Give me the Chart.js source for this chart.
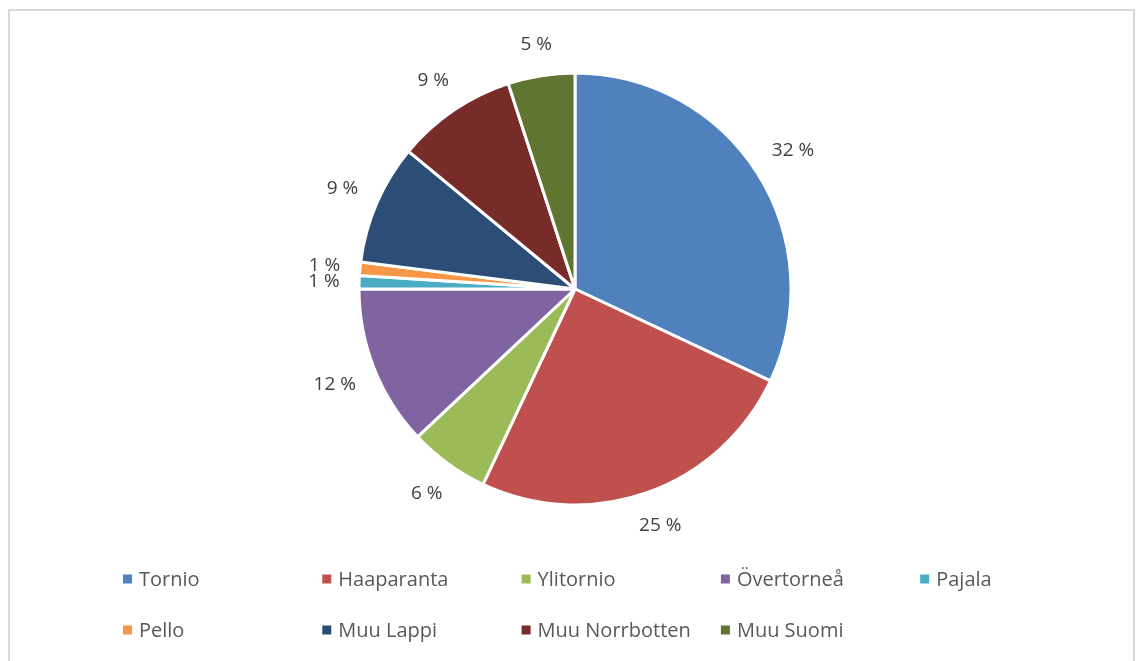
<!DOCTYPE html>
<html>
<head>
<meta charset="utf-8">
<script src="https://cdn.jsdelivr.net/npm/chart.js@4"></script>
<style>
    html, body { margin: 0; padding: 0; background: #ffffff; }
    #wrap { width: 1143px; height: 661px; position: relative; }
</style>
</head>
<body>
<div id="wrap"><canvas id="pieChart"></canvas></div>
<script>
// Share of visitors by home area (%)
const areas = ['Tornio', 'Haaparanta', 'Ylitornio', 'Övertorneå', 'Pajala', 'Pello', 'Muu Lappi', 'Muu Norrbotten', 'Muu Suomi'];
const shares = [32, 25, 6, 12, 1, 1, 9, 9, 5];
const sliceColors = ['#4F81BD', '#C0504D', '#9BBB59', '#8064A2', '#4BACC6', '#F79646', '#2C4D75', '#772C2A', '#5F7530'];

const fontFamily = '"Open Sans", Lato, sans-serif';

// light frame around the whole chart
const framePlugin = {
    id: 'frame',
    beforeDraw(chart) {
        const ctx = chart.ctx;
        ctx.save();
        ctx.fillStyle = '#ffffff';
        ctx.fillRect(0, 0, chart.width, chart.height);
        ctx.strokeStyle = '#d9d9d9';
        ctx.lineWidth = 2;
        ctx.strokeRect(9, 10, chart.width - 18, chart.height + 20);
        ctx.restore();
    }
};

// percentage labels outside each slice, text box kept a fixed gap from the rim
const outsideLabels = {
    id: 'outsideLabels',
    afterDatasetsDraw(chart) {
        const ctx = chart.ctx;
        const meta = chart.getDatasetMeta(0);
        const gap = 19, boxH = 20;
        ctx.save();
        ctx.font = '19px ' + fontFamily;
        ctx.fillStyle = '#404040';
        ctx.textAlign = 'center';
        ctx.textBaseline = 'middle';
        meta.data.forEach((arc, i) => {
            const p = arc.getProps(['x', 'y', 'startAngle', 'endAngle', 'outerRadius'], true);
            const text = shares[i] + ' %';
            const w = ctx.measureText(text).width;
            const mid = (p.startAngle + p.endAngle) / 2;
            const dx = Math.cos(mid), dy = Math.sin(mid);
            const dist = p.outerRadius + gap + Math.abs(dx) * w / 2 + Math.abs(dy) * boxH / 2;
            ctx.fillText(text, p.x + dx * dist, p.y + dy * dist);
        });
        ctx.restore();
    }
};

// legend in a fixed grid of five columns
const gridLegend = {
    id: 'gridLegend',
    afterDraw(chart) {
        const ctx = chart.ctx;
        const left = 123, colW = 199.3, rowY = [579, 630], cols = 5;
        ctx.save();
        ctx.font = '20px ' + fontFamily;
        ctx.textBaseline = 'middle';
        ctx.textAlign = 'left';
        areas.forEach((name, i) => {
            const col = i % cols, row = Math.floor(i / cols);
            const x = left + col * colW;
            const y = rowY[row];
            ctx.fillStyle = sliceColors[i];
            ctx.fillRect(x, y - 4.5, 9, 9);
            ctx.fillStyle = '#595959';
            ctx.fillText(name, x + 16, y + 1);
        });
        ctx.restore();
    }
};

const ctx = document.getElementById('pieChart').getContext('2d');
const chart = new Chart(ctx, {
    type: 'pie',
    data: {
        labels: areas,
        datasets: [{
            data: shares,
            backgroundColor: sliceColors,
            borderColor: '#ffffff',
            borderWidth: 3
        }]
    },
    options: {
        responsive: true,
        maintainAspectRatio: false,
        animation: false,
        radius: 216,
        layout: {
            padding: { left: 10, right: 3, top: 20, bottom: 103 }
        },
        plugins: {
            legend: { display: false },
            tooltip: { enabled: false }
        }
    },
    plugins: [framePlugin, outsideLabels, gridLegend]
});
</script>
</body>
</html>
